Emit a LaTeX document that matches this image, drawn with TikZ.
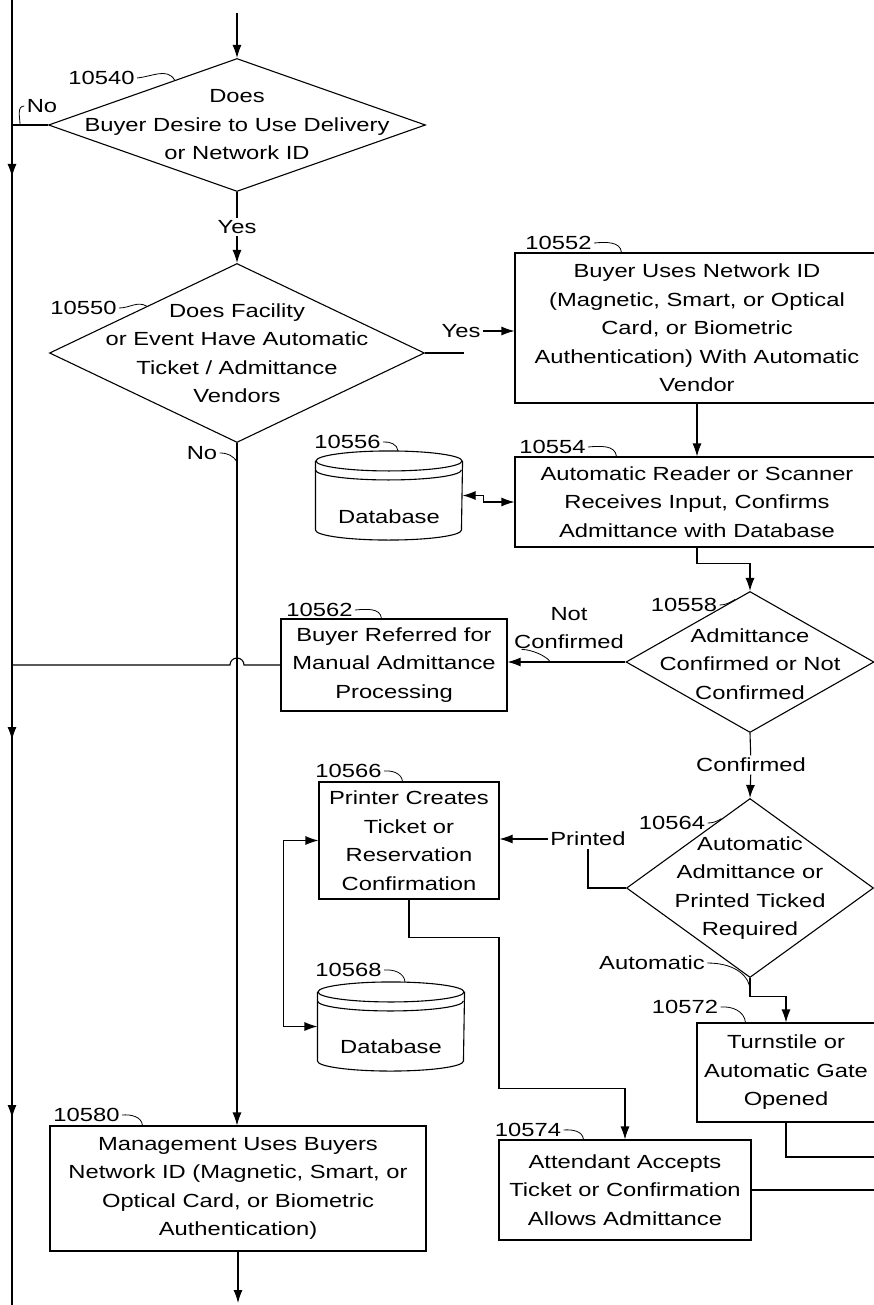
\documentclass[tikz,border=0pt]{standalone}
\usepackage{fontspec}
\setmainfont{Liberation Sans}[FakeStretch=1.25]
\usetikzlibrary{arrows.meta,shapes.geometric,decorations.markings,calc}
\newcommand{\flowFont}{\fontsize{19}{28.5}\selectfont}
\newcommand{\lineWidth}{1.1pt}
\newcommand{\dbRx}{73pt}
\newcommand{\dbRy}{10pt}
\newcommand{\tipSize}{length=13pt,width=9pt}
% cylinder around an empty node
\newcommand{\drawDatabase}[1]{%
  \draw ([yshift=-\dbRy]#1.north) ellipse [x radius=\dbRx, y radius=\dbRy];
  \draw ([yshift=-\dbRy]#1.north west) -- ([yshift=\dbRy]#1.south west)
     arc [start angle=180, end angle=360, x radius=\dbRx, y radius=\dbRy]
     -- ([yshift=-\dbRy]#1.north east);
  \draw ([yshift=-19pt]#1.north west)
     arc [start angle=180, end angle=360, x radius=\dbRx, y radius=\dbRy];
}

\begin{document}
\begin{tikzpicture}[x=1pt, y=1pt, line width=\lineWidth,
  every node/.style={font=\flowFont, inner sep=2pt},
  process/.style={draw, rectangle, align=center, inner sep=0pt},
  decision/.style={draw, diamond, inner sep=0pt},
  dbase/.style={rectangle, minimum width=146pt, minimum height=88pt, inner sep=0pt},
  arr/.style={-{Latex[\tipSize]}},
  arrboth/.style={{Latex[\tipSize]}-{Latex[\tipSize]}},
  tick/.style={line width=0.8pt},
  trunk/.style={postaction={decorate}, decoration={markings,
      mark=at position 177pt with {\arrow{Latex[\tipSize]}},
      mark=at position 740pt with {\arrow{Latex[\tipSize]}},
      mark=at position 1118pt with {\arrow{Latex[\tipSize]}}}}]
\useasboundingbox (0,0) rectangle (874,-1305);

% decisions
\node[decision, minimum width=377, minimum height=133] (q1) at (237,-125) {};
\node[align=center] (q1t) at (q1) {Does\\Buyer Desire to Use Delivery\\or Network ID};
\node[decision, minimum width=375, minimum height=179] (q2) at (237,-353) {};
\node[align=center] (q2t) at (q2) {Does Facility\\or Event Have Automatic\\Ticket / Admittance\\Vendors};
\node[decision, minimum width=248, minimum height=141] (q3) at (750,-662) {};
\node[align=center] (q3t) at (750,-664) {Admittance\\Confirmed or Not\\Confirmed};
\node[decision, minimum width=247, minimum height=179] (q4) at (750,-888) {};
\node[align=center] (q4t) at (q4) {Automatic\\Admittance or\\Printed Ticked\\Required};

% process boxes
\node[process, minimum width=364, minimum height=150] (b52) at (697,-328) {Buyer Uses Network ID\\(Magnetic, Smart, or Optical\\Card, or Biometric\\Authentication) With Automatic\\Vendor};
\node[process, minimum width=364, minimum height=90] (b54) at (697,-502) {Automatic Reader or Scanner\\Receives Input, Confirms\\Admittance with Database};
\node[process, minimum width=226, minimum height=92] (b62) at (394,-665) {Buyer Referred for\\Manual Admittance\\Processing};
\node[process, minimum width=180, minimum height=117] (b66) at (409,-840.5) {Printer Creates\\Ticket or\\Reservation\\Confirmation};
\node[process, minimum width=178, minimum height=99] (b72) at (786,-1072.5) {Turnstile or\\Automatic Gate\\Opened};
\node[process, minimum width=252, minimum height=100] (b74) at (625,-1190) {Attendant Accepts\\Ticket or Confirmation\\Allows Admittance};
\node[process, minimum width=376, minimum height=125] (b80) at (238,-1188.5) {Management Uses Buyers\\Network ID (Magnetic, Smart, or\\Optical Card, or Biometric\\Authentication)};

% databases
\node[dbase] (db1) at (389,-495.5) {};
\drawDatabase{db1}
\node (db1t) at (389,-517) {Database};
\node[dbase] (db2) at (391,-1026.5) {};
\drawDatabase{db2}
\node (db2t) at (391,-1047) {Database};

% branch labels
\node (yes1) at (237,-227) {Yes};
\node (yes2) at (461,-331) {Yes};
\node (no1) at (42,-106) {No};
\node (no2) at (202,-453) {No};
\node[align=center] (notc) at (569,-628) {Not\\Confirmed};
\node (conf) at (751,-765) {Confirmed};
\node (prn) at (588,-839) {Printed};
\node (auto) at (652,-963) {Automatic};

% reference numbers
\node (l40) at (101.5,-78) {10540};
\node (l50) at (83.5,-308) {10550};
\node (l52) at (558.5,-243) {10552};
\node (l54) at (552.5,-447) {10554};
\node (l56) at (347.5,-442) {10556};
\node (l58) at (684,-605) {10558};
\node (l62) at (319.5,-610) {10562};
\node (l64) at (672,-823) {10564};
\node (l66) at (348.5,-771) {10566};
\node (l68) at (348.5,-970) {10568};
\node (l72) at (685,-1007) {10572};
\node (l74) at (528,-1130) {10574};
\node (l80) at (86.5,-1115) {10580};

\coordinate (top0) at (12,0);
\coordinate (bot0) at (12,-1305);
\coordinate (start) at (237,-13);
\coordinate (end) at (240,-1303);
\coordinate (exit1) at (880,-1157);
\coordinate (exit2) at (880,-1190);

% left trunk
\draw[trunk] (top0) -- (bot0);

\draw[arr] (start) -- (q1.north);
\draw (q1.south) -- (yes1);
\draw[arr] (yes1) -- (q2.north);
\draw (q1.west) -- (q1.west -| top0);
\draw (q2.east) -- ++(39,0);
\draw[arr] (yes2.east) -- (yes2.east -| b52.west);
\draw[arr] (q2.south) -- (q2.south |- b80.north);
\draw[arr] (b52.south) -- (b54.north);
\draw[arrboth] (db1.east) -- ++(21,0) |- (b54.west);
\draw[arr] (b54.south) -- ++(0,-16) -| (q3.north);
\draw[arr] (q3.west) -- (q3.west -| b62.east);
\draw (b62.west) -- ($(b62.west -| q2.south)+(7,0)$) arc [start angle=0, end angle=180, radius=7] -- (b62.west -| top0);
\draw (q3.south) -- (conf);
\draw[arr] (conf) -- (q4.north);
\draw (q4.west) -| (prn.south);
\draw[arr] (prn.west) -- (prn.west -| b66.east);
\draw[arrboth] (b66.west) -- ++(-35,0) |- (db2.west);
\draw[arr] (b66.south) |- ++(90,-38) -- ++(0,-151) -| (b74.north);
\draw[arr] (q4.south) -- ++(0,-18) -| (b72.north);
\draw (b72.south) |- (exit1);
\draw (b74.east) -- (exit2);
\draw[arr] (b80.south) -- (b80.south |- end);

% leaders
\draw[tick] ($(q1.west -| top0)+(8,0)$) to[out=90, in=180] (no1.west);
\draw[tick] (no2.east) to[out=0, in=120] ($(q2.south)+(0,-19)$);
\draw[tick] ($(notc.south west)+(10,2)$) .. controls +(10,0) and +(-4,6) .. ($(q3.west)+(-75,0)$);
\draw[tick] (auto.east) .. controls +(30,0) and +(0,12) .. ($(q4.south)+(0,-12)$);

\draw[tick] (l40.east) to[out=5, in=120] ($(q1.north)!0.33!(q1.west)$);
\draw[tick] (l50.east) to[out=0, in=150] ($(q2.north)!0.48!(q2.west)$);
\draw[tick] (l52.east) to[out=5, in=95] ([xshift=107pt]b52.north west);
\draw[tick] (l54.east) to[out=5, in=95] ([xshift=102pt]b54.north west);
\draw[tick] (l56.east) to[out=5, in=95] ([xshift=9pt]db1.north);
\draw[tick] (l58.east) to[out=0, in=-150] ($(q3.north)!0.12!(q3.west)$);
\draw[tick] (l62.east) to[out=5, in=95] ([xshift=101pt]b62.north west);
\draw[tick] (l64.east) to[out=0, in=-150] ($(q4.north)!0.23!(q4.west)$);
\draw[tick] (l66.east) to[out=5, in=95] ([xshift=84pt]b66.north west);
\draw[tick] (l68.east) to[out=5, in=95] ([xshift=14pt]db2.north);
\draw[tick] (l72.east) to[out=5, in=95] ([xshift=49pt]b72.north west);
\draw[tick] (l74.east) to[out=5, in=95] ([xshift=85pt]b74.north west);
\draw[tick] (l80.east) to[out=5, in=95] ([xshift=93pt]b80.north west);
\end{tikzpicture}
\end{document}
